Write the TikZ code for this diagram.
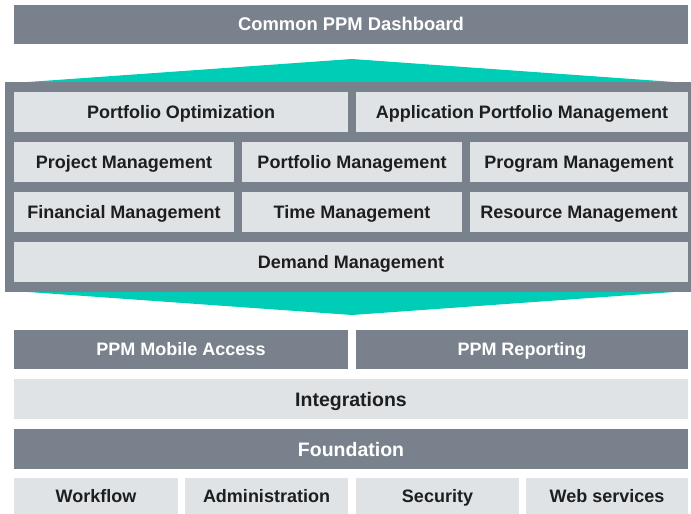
\documentclass[tikz,border=0pt]{standalone}
\usepackage{fontspec}
\setmainfont{Liberation Sans}
\definecolor{darkg}{HTML}{79828C}
\definecolor{lightg}{HTML}{DFE3E6}
\definecolor{tealc}{HTML}{00CDB5}
\definecolor{txt}{HTML}{1E1E1E}
\newcommand\bx[7]{\node[#6, minimum width={#4pt-#2pt}, minimum height={#5pt-#3pt}] (#1) at ({(#2+#4)/2},{(#3+#5)/2}) {#7};}
\tikzset{
  base/.style={inner sep=0pt, outer sep=0pt, font=\fontsize{18}{20}\selectfont\bfseries, anchor=center, text height=12.9pt, text depth=0pt},
  darkbox/.style={base, fill=darkg, text=white},
  lightbox/.style={base, fill=lightg, text=txt},
  bigtext/.style={font=\fontsize{19.5}{22}\selectfont\bfseries, text height=14pt},
}
\begin{document}
\begin{tikzpicture}[x=1pt,y=-1pt]
\useasboundingbox (0,0) rectangle (691,514);
% top dashboard
\bx{dash}{14}{5}{688}{44}{darkbox,font=\fontsize{18.4}{20}\selectfont\bfseries}{Common PPM Dashboard}
% teal upward wedge
\fill[tealc] (14,83) -- (352,59) -- (688,83) -- cycle;
% teal downward wedge
\fill[tealc] (14,291) -- (688,291) -- (352,315) -- cycle;
% frame
\node[fill=darkg, inner sep=0pt, minimum width=686pt, minimum height=210pt] (frame) at (348,187) {};
% rows inside frame
\bx{popt}{14}{92}{348}{132}{lightbox}{Portfolio Optimization}
\bx{apm}{356}{92}{688}{132}{lightbox}{Application Portfolio Management}
\bx{projm}{14}{142}{234}{182}{lightbox}{Project Management}
\bx{portm}{242}{142}{462}{182}{lightbox}{Portfolio Management}
\bx{progm}{470}{142}{688}{182}{lightbox}{Program Management}
\bx{finm}{14}{192}{234}{232}{lightbox}{Financial Management}
\bx{timem}{242}{192}{462}{232}{lightbox}{Time Management}
\bx{resm}{470}{192}{688}{232}{lightbox}{Resource Management}
\bx{demand}{14}{242}{688}{282}{lightbox}{Demand Management}
% lower layers
\bx{mobile}{14}{330}{348}{369}{darkbox}{PPM Mobile Access}
\bx{report}{356}{330}{688}{369}{darkbox}{PPM Reporting}
\bx{integ}{14}{379}{688}{419}{lightbox,bigtext}{Integrations}
\bx{found}{14}{429}{688}{469}{darkbox,bigtext}{Foundation}
\bx{wf}{14}{478}{178}{514}{lightbox}{Workflow}
\bx{admin}{185}{478}{348}{514}{lightbox}{Administration}
\bx{sec}{356}{478}{519}{514}{lightbox}{Security}
\bx{web}{526}{478}{688}{514}{lightbox}{Web services}
\end{tikzpicture}
\end{document}
